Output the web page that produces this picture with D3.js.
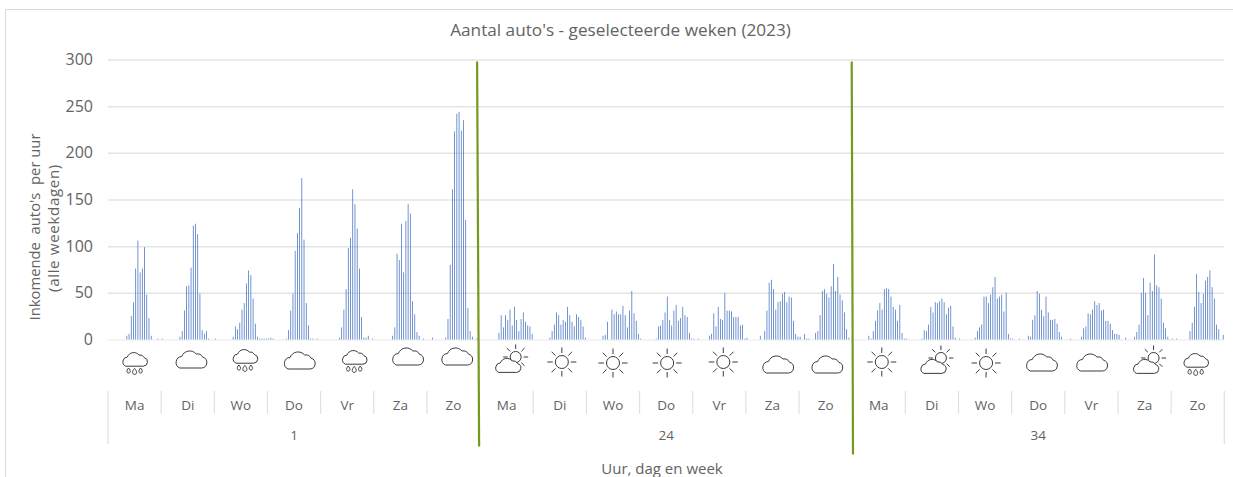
<!DOCTYPE html>
<html>
<head>
<meta charset="utf-8">
<script src="https://cdn.jsdelivr.net/npm/d3@7"></script>
<style>
  html, body { margin: 0; padding: 0; background: #fff; overflow: hidden; }
  text { font-family: "Open Sans", sans-serif; fill: #636363; }
</style>
</head>
<body>
<div id="chart"></div>
<script>
const dayNames = ["Ma", "Di", "Wo", "Do", "Vr", "Za", "Zo"];
const weekNames = ["1", "24", "34"];

// hourly values per day (0 t/m 23)
const week1 = [
  [0,0,0,0,0,0,0,0,4,6,25,40,76,106,72,76,99,48,23,4,0,0,1,0],
  [1,0,0,0,0,0,0,0,3,9,31,57,58,77,122,124,113,49,10,6,9,1,0,0],
  [1,0,0,0,0,0,0,0,3,14,11,18,32,39,60,74,69,44,17,3,1,1,1,1],
  [1,2,1,0,0,0,0,0,1,10,31,49,95,114,141,173,107,39,15,1,1,0,1,0],
  [0,0,0,0,0,0,0,0,2,13,32,54,98,109,161,145,119,76,24,2,2,4,0,1],
  [0,0,0,0,0,0,0,0,4,13,92,85,124,72,127,145,135,41,27,8,4,0,1,0],
  [0,0,2,0,0,0,0,0,2,22,80,161,223,242,244,224,235,128,34,9,3,0,1,0]
];
const week24 = [
  [0,0,0,0,0,0,0,0,7,26,13,26,21,32,15,35,21,9,22,29,19,15,14,6],
  [0,0,0,0,0,0,0,2,9,16,29,26,16,21,19,35,26,19,14,27,24,21,14,2],
  [0,0,0,0,0,0,0,4,5,19,0,32,27,30,27,27,36,26,13,31,52,28,20,6],
  [1,0,0,0,0,0,0,1,14,15,21,29,46,21,15,31,37,20,23,35,26,24,7,1],
  [1,0,1,0,0,0,0,4,6,28,14,35,22,21,50,31,31,30,24,24,24,15,16,1],
  [2,0,0,0,0,0,4,0,9,31,61,64,54,32,40,41,49,51,40,46,45,20,6,3],
  [3,0,6,1,1,0,0,7,9,26,52,54,49,45,57,81,52,67,48,42,29,11,2,0]
];
const week34 = [
  [0,0,0,0,0,0,0,4,1,9,20,31,39,32,54,55,54,46,35,32,20,37,7,1],
  [1,0,0,0,0,0,0,1,10,9,16,35,29,40,39,41,44,40,27,34,36,14,2,0],
  [1,0,0,0,0,0,0,2,9,13,16,46,46,39,48,56,67,44,46,48,30,50,6,1],
  [1,0,0,1,0,0,0,4,3,21,26,52,49,32,25,46,29,21,21,22,17,8,3,0],
  [0,0,1,0,0,0,0,3,12,14,28,27,32,41,37,39,31,32,20,20,17,10,6,6],
  [5,0,0,2,0,0,0,3,8,16,50,66,50,26,61,52,91,58,56,44,18,12,3,0],
  [1,0,1,0,0,0,0,0,9,18,35,70,51,39,49,63,67,74,56,44,16,11,0,5]
];

// weer per dag, in volgorde van de drie weken
const weather = [
  "rain","cloud","rain","cloud","rain","cloud","cloud",
  "suncloud","sun","sun","sun","sun","cloud","cloud",
  "sun","suncloud","sun","cloud","cloud","suncloud","rain"
];
// icons were placed by hand in the original, offset from the day centre
const iconNudge = [
  [0,0],[3,-3],[4,-3],[5,-2],[7,-2],[7,-6],[3,-6],
  [4,0],[2,0],[0,1],[1,1],[4,0],[5,2],[1,2],
  [3,0],[4,1],[1,1],[3,0],[0,0],[4,1],[-2,1]
];

const width = 1233, height = 477;
const margin = { left: 108, right: 1224.3, top: 59.5, bottom: 339.5 };

const svg = d3.select("#chart").append("svg")
  .attr("width", width)
  .attr("height", height)
  .style("display", "block");

const values = [week1, week24, week34].flat(2);

const xScale = d3.scaleBand()
  .domain(d3.range(values.length))
  .range([margin.left, margin.right])
  .paddingInner(0.66)
  .paddingOuter(0.33);
const hourW = xScale.step();
const hourEdge = i => margin.left + (margin.right - margin.left) * i / values.length;

const yScale = d3.scaleLinear().domain([0, 300]).range([margin.bottom, margin.top]);

// frame, no right side in the original
svg.append("path")
  .attr("d", `M5.5,${height}V9.5H${width}`)
  .attr("fill", "none")
  .attr("stroke", "#d9d9d9");

svg.append("text")
  .attr("x", 620.5).attr("y", 36)
  .attr("text-anchor", "middle")
  .style("font-size", "17.2px")
  .text("Aantal auto's - geselecteerde weken (2023)");

// y axis + grid
const yAxis = d3.axisLeft(yScale)
  .tickValues([0, 50, 100, 150, 200, 250, 300])
  .tickSize(-(margin.right - margin.left))
  .tickPadding(15);

const axisG = svg.append("g")
  .attr("transform", `translate(${margin.left},0)`)
  .call(yAxis);
axisG.select(".domain").remove();
axisG.selectAll(".tick line")
  .attr("stroke", d => d === 0 ? "#f0f0f0" : "#e4e4e4")
  .attr("stroke-width", 1.5);
axisG.selectAll(".tick text")
  .style("font-size", "16px")
  .style("font-family", '"Open Sans", sans-serif');

svg.append("text")
  .attr("transform", "translate(40,227) rotate(-90)")
  .attr("text-anchor", "middle")
  .style("font-size", "14.8px")
  .attr("xml:space", "preserve")
  .text("Inkomende  auto's  per uur");
svg.append("text")
  .attr("transform", "translate(59,228) rotate(-90)")
  .attr("text-anchor", "middle")
  .style("font-size", "15.2px")
  .style("letter-spacing", "0.6px")
  .text("(alle weekdagen)");

// bars
svg.append("g").selectAll("rect")
  .data(values)
  .join("rect")
  .attr("x", (d, i) => xScale(i))
  .attr("width", xScale.bandwidth())
  .attr("y", d => yScale(d))
  .attr("height", d => yScale(0) - yScale(d))
  .attr("fill", "#4472c4");

// x axis labels, multi level
const dayG = svg.append("g");
d3.range(21).forEach(d => {
  const x0 = hourEdge(d * 24);
  dayG.append("text")
    .attr("x", x0 + hourW * 12)
    .attr("y", 410)
    .attr("text-anchor", "middle")
    .style("font-size", "13.5px")
    .text(dayNames[d % 7]);
});
d3.range(22).forEach(d => {
  const isWeek = d % 7 === 0;
  if (isWeek && (d === 7 || d === 14)) return; // green lines sit here
  const x = hourEdge(d * 24);
  dayG.append("line")
    .attr("x1", x).attr("x2", x)
    .attr("y1", 391)
    .attr("y2", isWeek ? 444 : 414)
    .attr("stroke", "#e0e0e0")
    .attr("stroke-width", 1.2);
});
weekNames.forEach((w, k) => {
  dayG.append("text")
    .attr("x", hourEdge((k * 7 + 3.5) * 24))
    .attr("y", 440)
    .attr("text-anchor", "middle")
    .style("font-size", "13.5px")
    .text(w);
});

svg.append("text")
  .attr("x", 662)
  .attr("y", 474)
  .attr("text-anchor", "middle")
  .style("font-size", "15px")
  .text("Uur, dag en week");

// green week separators, slightly skewed in the original
[[7, -3, -1, 446.5], [14, -0.5, 0.8, 454.5]].forEach(([d, top, bottom, yEnd]) => {
  svg.append("line")
    .attr("x1", hourEdge(d * 24) + top)
    .attr("x2", hourEdge(d * 24) + bottom)
    .attr("y1", 61.5)
    .attr("y2", yEnd)
    .attr("stroke", "#76981f")
    .attr("stroke-width", 2.2);
});

// weather icons
const cloudPath = "M-11,9H11A5.5,5.5 0 0 0 12,-1.8A6,6 0 0 0 5.5,-5A8.5,8.5 0 0 0 -9,-2.5A6,6 0 0 0 -11,9Z";

function drawSun(g, r, len) {
  g.append("circle").attr("r", r).attr("fill", "#fff");
  d3.range(8).forEach(a => {
    const t = a * Math.PI / 4;
    g.append("line")
      .attr("x1", Math.cos(t) * (r + 2.5)).attr("y1", Math.sin(t) * (r + 2.5))
      .attr("x2", Math.cos(t) * (r + 2.5 + len)).attr("y2", Math.sin(t) * (r + 2.5 + len));
  });
}

function drawCloud(g, scale, dx, dy) {
  g.append("path")
    .attr("d", cloudPath)
    .attr("fill", "#fff")
    .attr("transform", `translate(${dx},${dy}) scale(${scale})`)
    .attr("vector-effect", "non-scaling-stroke");
}

const iconG = svg.append("g")
  .attr("fill", "none")
  .attr("stroke", "#3a3a3a")
  .attr("stroke-width", 1);

weather.forEach((kind, d) => {
  const g = iconG.append("g")
    .attr("transform", `translate(${hourEdge(d * 24) + hourW * 12 + iconNudge[d][0]},${362 + iconNudge[d][1]})`);
  if (kind === "cloud") {
    drawCloud(g, 1, 0, 0);
  } else if (kind === "rain") {
    drawCloud(g, 0.8, 0, -3);
    [-6, 0, 6].forEach((dx, i) => {
      const s = i === 1 ? 1.2 : 1;
      g.append("path")
        .attr("d", `M0,${-3 * s}C${-2.4 * s},${-0.4 * s} ${-2 * s},${2 * s} 0,${2 * s}C${2 * s},${2 * s} ${2.4 * s},${-0.4 * s} 0,${-3 * s}Z`)
        .attr("transform", `translate(${dx},${i === 1 ? 10 : 9})`);
    });
  } else if (kind === "sun") {
    drawSun(g, 6.5, 5.5);
  } else {
    const s = g.append("g").attr("transform", "translate(5,-5)");
    drawSun(s, 5.5, 4.5);
    drawCloud(g, 0.82, -3, 3);
  }
});
</script>
</body>
</html>
